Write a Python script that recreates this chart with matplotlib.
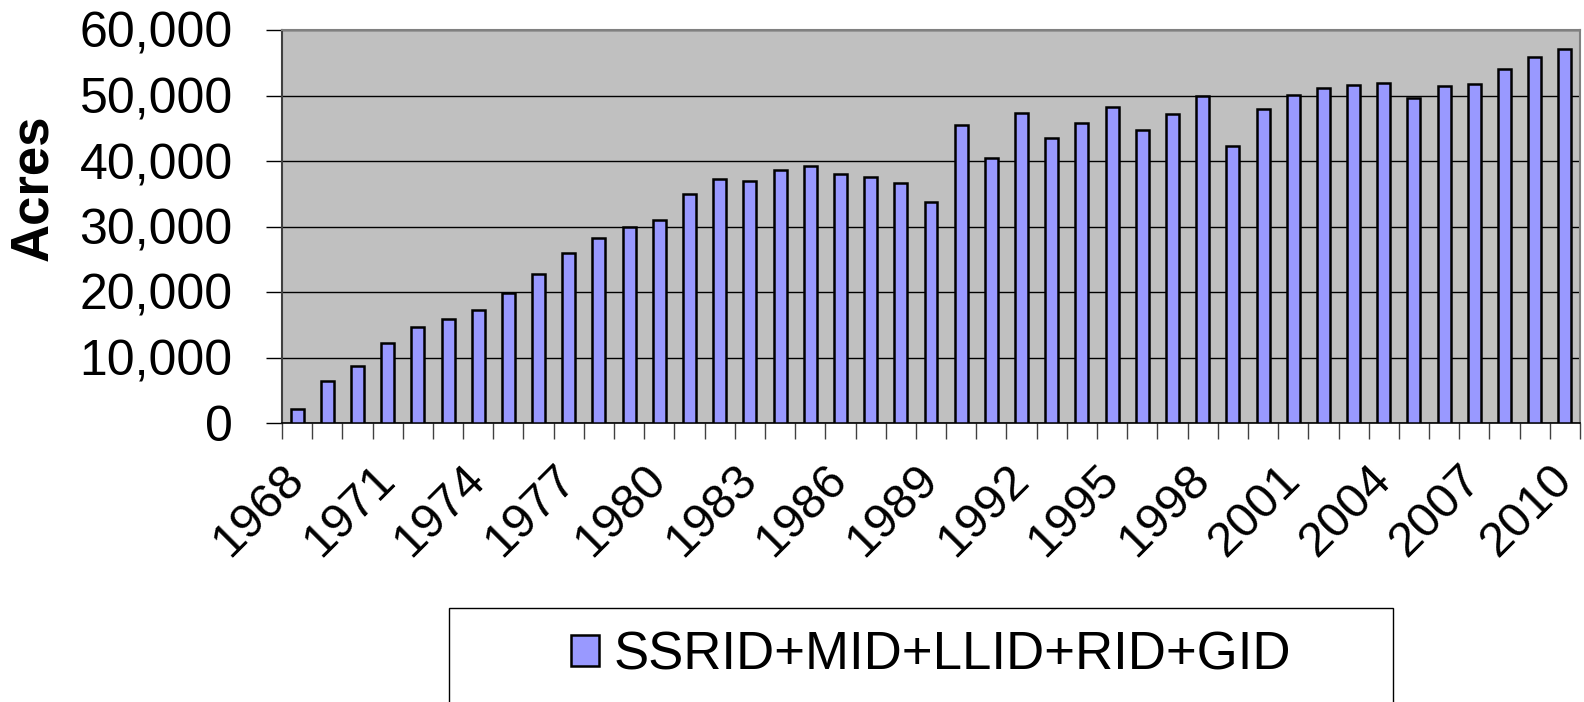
import matplotlib
matplotlib.use("Agg")
import matplotlib.pyplot as plt
from matplotlib.patches import Rectangle
from matplotlib.ticker import FuncFormatter, FixedLocator

# data
years = list(range(1968, 2011))
acres = [
    2200, 6400, 8700, 12200, 14700, 15900, 17300, 19900, 22800, 26000,
    28300, 30000, 31000, 35000, 37300, 36900, 38700, 39300, 38000, 37500,
    36600, 33800, 45500, 40500, 47300, 43500, 45800, 48300, 44800, 47100,
    49900, 42300, 47900, 50100, 51100, 51600, 51900, 49600, 51400, 51800,
    54000, 55900, 57100,
]
series_name = "SSRID+MID+LLID+RID+GID"
label_years = [y for y in years if (y - 1968) % 3 == 0]

plt.rcParams["font.family"] = ["Liberation Sans", "DejaVu Sans"]

W, H = 1584, 702
fig = plt.figure(figsize=(W / 100, H / 100), dpi=100)
ax = fig.add_axes([282 / W, 1 - 423 / H, (1580 - 282) / W, (423 - 30) / H])
ax.set_facecolor("#C0C0C0")

x = list(range(len(years)))
bars = ax.bar(x, acres, width=0.43, color="#9999FF", edgecolor="black",
              linewidth=1.8, zorder=3, label=series_name)

ax.set_xlim(-0.5, len(years) - 0.5)
ax.set_ylim(0, 60000)
ax.set_yticks(range(0, 60001, 10000))
ax.yaxis.set_major_formatter(FuncFormatter(lambda v, p: f"{int(v):,}"))
ax.grid(axis="y", color="black", linewidth=1, zorder=1)

# labels every third year, tick marks at category boundaries
ax.xaxis.set_major_locator(FixedLocator([years.index(y) for y in label_years]))
ax.set_xticklabels([str(y) for y in label_years])
ax.xaxis.set_minor_locator(FixedLocator([i - 0.5 for i in range(len(years) + 1)]))
ax.tick_params(axis="x", which="major", length=0, pad=36, labelsize=35)
ax.tick_params(axis="x", which="minor", length=11.5, width=1, color="#404040")
for lbl in ax.get_xticklabels():
    lbl.set_rotation(45)
    lbl.set_ha("right")
    lbl.set_va("center")
    lbl.set_rotation_mode("anchor")

ax.tick_params(axis="y", length=11.5, width=1, pad=24, labelsize=36)

ax.set_ylabel("Acres", fontsize=38, fontweight="bold", va="center")
ax.yaxis.set_label_coords(-0.192, 0.598)

for s in ["top", "right"]:
    ax.spines[s].set_color("#808080")
    ax.spines[s].set_linewidth(1.5)
ax.spines["left"].set_color("#404040")
ax.spines["left"].set_linewidth(1.5)
ax.spines["bottom"].set_color("black")
ax.spines["bottom"].set_linewidth(1.2)

# legend frame runs off the bottom edge of the figure
fig.patches.append(Rectangle((449 / W, -0.05), (1393 - 449) / W, 0.05 + 1 - 608 / H,
                             transform=fig.transFigure, fill=False,
                             edgecolor="black", linewidth=1))
fig.legend(handles=[bars], labels=[series_name], loc="center",
           bbox_to_anchor=(931 / W, 1 - 655 / H), frameon=False, fontsize=38,
           handlelength=0.53, handleheight=0.53, handletextpad=0.28)

fig.savefig("out.png", dpi=100, facecolor="white")
